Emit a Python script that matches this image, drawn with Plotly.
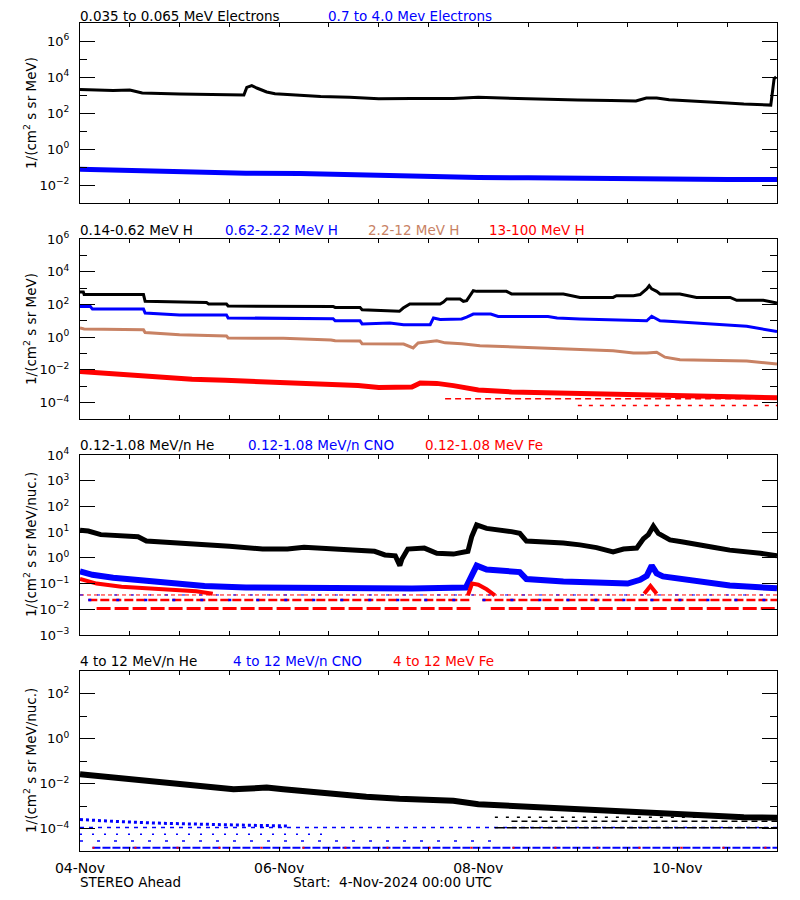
import pandas as pd
import plotly.graph_objects as go

T0 = pd.Timestamp("2024-11-04 00:00")
T1 = T0 + pd.Timedelta(days=7)

# ---------------- data: hours since 04-Nov-2024 00:00 UTC, flux ----------------
# Panel 1: electrons
e_lo_hours = [0, 8, 12, 15, 24, 30, 36, 39.5, 40.2, 41.4, 42.6, 45, 47, 53, 58, 65, 72, 80, 90, 96,
              104, 112, 120, 128, 134, 136.5, 139, 142, 148, 152, 156, 160, 164, 166.5, 167.3, 167.8]
e_lo_flux = [2000, 1780, 1900, 1290, 1150, 1050, 955, 990, 2630, 3310, 2450, 1480, 1175, 955, 830, 740,
             617, 645, 645, 740, 645, 600, 525, 500, 468, 676, 676, 550, 479, 427, 363, 316, 288, 275, 7940, 10000]
e_hi_hours = [0, 6, 12, 18, 24, 30, 40, 53, 64, 72, 84, 96, 108, 120, 132, 144, 156, 168]
e_hi_flux = [0.074, 0.068, 0.062, 0.055, 0.05, 0.047, 0.045, 0.043, 0.037, 0.032, 0.028, 0.026, 0.025,
             0.023, 0.022, 0.021, 0.0205, 0.02]

# Panel 2: protons
h1_hours = [0, 0.8, 1.0, 15.3, 15.7, 30.5, 31, 35.3, 35.7, 61, 61.5, 67.5, 68, 74.7, 77, 77.9, 79.5,
            86.8, 87.6, 88.4, 91.6, 92.4, 93.2, 94.8, 95.6, 102.8, 104, 116.5, 120.5, 128.5, 129.3, 133.4,
            135, 136.6, 137.2, 137.8, 139, 139.8, 144.6, 148.6, 156.7, 158.3, 164.7, 168]
h1_flux = [575, 575, 400, 400, 155, 130, 107, 107, 80, 76, 66, 66, 48, 42, 38, 60, 107, 107, 140, 215,
           215, 155, 170, 690, 630, 630, 440, 440, 270, 270, 340, 340, 400, 900, 1400, 900, 630, 440, 440,
           270, 270, 178, 178, 123]
h2_hours = [0, 2.5, 3, 15.3, 15.7, 24, 35.3, 35.7, 61, 61.5, 67.5, 68, 74.7, 78, 84.4, 85.2, 86.8, 92,
            93.2, 94.8, 99, 100.8, 112.8, 115, 120.5, 134, 136.6, 137.8, 139.8, 142.8, 148.6, 152.6,
            160.7, 168]
h2_flux = [75, 75, 52, 52, 30, 23, 23, 15, 13.5, 10, 10, 6.5, 7.4, 5.8, 5.8, 15, 12, 13, 17, 26, 26,
           18.6, 18.6, 15, 13, 10, 10, 19, 10, 9, 7.4, 6, 4.6, 2.25]
h3_hours = [0, 1, 15.3, 15.7, 24, 35.3, 35.7, 49, 60.5, 61.5, 67.5, 68, 78, 80.3, 81.5, 86, 88, 92,
            96.4, 106, 116.5, 128.5, 133.4, 136.6, 139, 141, 144.6, 152.6, 160.7, 168]
h3_flux = [3.6, 3.2, 2.8, 1.9, 1.4, 1.2, 0.89, 0.85, 0.68, 0.6, 0.58, 0.4, 0.38, 0.22, 0.44, 0.6, 0.45,
           0.4, 0.3, 0.25, 0.2, 0.15, 0.107, 0.107, 0.12, 0.06, 0.042, 0.038, 0.035, 0.023]
h4_hours = [0, 5, 11, 20, 27, 35, 43, 51, 59, 67, 72, 76, 80, 82, 86, 90, 96, 104, 112, 120, 128, 136,
            144, 152, 160, 168]
h4_flux = [0.0081, 0.0065, 0.0046, 0.0034, 0.0027, 0.0023, 0.002, 0.0016, 0.0013, 0.0011, 0.00085,
           0.00085, 0.0009, 0.0016, 0.0015, 0.0011, 0.0006, 0.00045, 0.0004, 0.00035, 0.0003, 0.00028,
           0.00025, 0.00023, 0.00022, 0.0002]
h4_row1_hours = [88, 168]
h4_row1_flux = [1.7e-4, 1.7e-4]
h4_row2_hours = [120, 168]
h4_row2_flux = [6.8e-5, 6.8e-5]

# Panel 3: 0.12-1.08 MeV/n heavy ions
he3_hours = [0, 2, 5, 10, 14, 16, 22, 28, 36, 44, 50, 54, 60, 66, 71, 73.5, 76, 77.1, 77.6, 79, 83,
             86, 90, 93.5, 94.4, 95.6, 98, 104, 106, 107.6, 112, 116.5, 120.5, 124.5, 128.5, 131,
             134.2, 135.8, 137, 138.2, 139.4, 142.2, 145, 148.6, 152.6, 156.6, 160.7, 164, 168]
he3_flux = [12, 11, 8, 7, 6.6, 4.5, 4.0, 3.4, 2.8, 2.2, 2.2, 2.6, 2.3, 2.0, 1.8, 1.3, 1.2, 0.5, 0.9,
            2.2, 2.4, 1.5, 1.4, 1.8, 6.6, 19, 14, 10.5, 9, 4.5, 4.2, 3.8, 3.2, 2.5, 1.7, 2.2, 2.4, 5.5,
            8, 17, 9, 5, 4.2, 3.2, 2.6, 2.0, 1.8, 1.5, 1.2]
cno3_hours = [0, 3, 8, 13, 18, 24, 30, 40, 60, 80, 93, 94.4, 95.6, 98, 103, 106, 107.6, 112, 116.5,
              124.5, 132, 135, 136.6, 137.8, 139, 140.5, 144.6, 148.6, 156.6, 168]
cno3_flux = [0.3, 0.22, 0.17, 0.14, 0.12, 0.1, 0.08, 0.07, 0.065, 0.065, 0.07, 0.2, 0.5, 0.35, 0.3,
             0.28, 0.15, 0.13, 0.12, 0.11, 0.1, 0.14, 0.2, 0.5, 0.25, 0.19, 0.15, 0.12, 0.085, 0.065]
fe3_hours = [0, 4, 10, 20, 28, 32, None, 93.5, 94.5, 96, 98, 100, None, 136, 137.5, 139]
fe3_flux = [0.15, 0.1, 0.075, 0.06, 0.05, 0.04, None, 0.035, 0.1, 0.09, 0.06, 0.035, None, 0.04, 0.08, 0.04]
fe3_row1_hours = [0, 168]
fe3_row1_flux = [0.036, 0.036]
fe3_row2_hours = [2, 94.5, None, 97, 168]
fe3_row2_flux = [0.023, 0.023, None, 0.023, 0.023]
fe3_row3_hours = [4, 94.5, None, 99, 168]
fe3_row3_flux = [0.0107, 0.0107, None, 0.0107, 0.0107]

# Panel 4: 4-12 MeV/n heavy ions
he4_hours = [0, 6, 12.8, 18, 24, 30, 37, 41, 45, 49, 53, 61, 69, 77, 84, 90, 96, 104, 112, 120, 128.6,
             134, 140.6, 146, 152.6, 160, 168]
he4_flux = [0.026, 0.02, 0.0155, 0.012, 0.0092, 0.0075, 0.0055, 0.006, 0.0066, 0.0056, 0.0047, 0.0033,
            0.0026, 0.0021, 0.002, 0.0017, 0.0012, 0.001, 0.00087, 0.00075, 0.00065, 0.00058, 0.00045,
            0.0004, 0.00035, 0.00032, 0.0003]
he4_row1_hours = [100, 168]
he4_row1_flux = [1.07e-4, 1.07e-4]
he4_row2_hours = [104, 168]
he4_row2_flux = [2.1e-4, 2.1e-4]
he4_row3_hours = [100, 150]
he4_row3_flux = [3.2e-4, 3.2e-4]
cno4_hours = [0, 5, 10, 20, 30, 40, 50]
cno4_flux = [2.5e-4, 2.2e-4, 2e-4, 1.7e-4, 1.5e-4, 1.4e-4, 1.3e-4]
cno4_row1_hours = [0, 168]
cno4_row1_flux = [1.1e-4, 1.1e-4]
cno4_row2_hours = [0, 60]
cno4_row2_flux = [5.5e-5, 5.5e-5]
cno4_row3_hours = [0, 100]
cno4_row3_flux = [2.8e-5, 2.8e-5]
cno4_row4_hours = [3, 168]
cno4_row4_flux = [1.4e-5, 1.4e-5]
fe4_row_hours = [3, 168]
fe4_row_flux = [1.4e-5, 1.4e-5]

# tick labels / positions (hours)
x_label_hours = [0, 48, 96, 144]
x_label_text = ["04-Nov", "06-Nov", "08-Nov", "10-Nov"]
x_minor_hours = [12, 24, 36, 60, 72, 84, 108, 120, 132, 156, 168]

BLACK, BLUE, BROWN, RED = "#000000", "#0000FF", "rgb(200,130,100)", "#FF0000"
FONT = "DejaVu Sans"


def t(hours):
    return [None if h is None else T0 + pd.Timedelta(hours=h) for h in hours]


fig = go.Figure()


def add(panel, hours, flux, color, width, dash=None):
    sfx = "" if panel == 1 else str(panel)
    fig.add_trace(go.Scatter(
        x=t(hours), y=flux, mode="lines", xaxis="x" + sfx, yaxis="y" + sfx,
        line=dict(color=color, width=width, dash=dash), connectgaps=False,
        showlegend=False, hoverinfo="skip"))


# panel 1
add(1, e_lo_hours, e_lo_flux, BLACK, 3)
add(1, e_hi_hours, e_hi_flux, BLUE, 5)
# panel 2
add(2, h4_row2_hours, h4_row2_flux, RED, 1.5, "4px,7px")
add(2, h4_row1_hours, h4_row1_flux, RED, 1.5, "6px,4px")
add(2, h4_hours, h4_flux, RED, 5)
add(2, h3_hours, h3_flux, BROWN, 3)
add(2, h2_hours, h2_flux, BLUE, 3)
add(2, h1_hours, h1_flux, BLACK, 3)
# panel 3
add(3, fe3_row3_hours, fe3_row3_flux, RED, 3, "14px,4px")
add(3, fe3_row2_hours, fe3_row2_flux, RED, 2.5, "9px,3px")
add(3, fe3_row2_hours, fe3_row2_flux, BLUE, 2.5, "3px,25px")
add(3, fe3_row1_hours, fe3_row1_flux, RED, 1, "4px,3px")
add(3, fe3_row1_hours, fe3_row1_flux, BLUE, 1, "3px,14px")
add(3, cno3_hours, cno3_flux, BLUE, 6)
add(3, fe3_hours, fe3_flux, RED, 4)
add(3, he3_hours, he3_flux, BLACK, 5)
# panel 4
add(4, cno4_row4_hours, cno4_row4_flux, BLUE, 2, "8px,2px")
add(4, fe4_row_hours, fe4_row_flux, RED, 2, "2px,40px")
add(4, cno4_row3_hours, cno4_row3_flux, BLUE, 1.5, "3px,14px")
add(4, cno4_row2_hours, cno4_row2_flux, BLUE, 1.5, "2px,10px")
add(4, cno4_row1_hours, cno4_row1_flux, BLUE, 1.5, "4px,5px")
add(4, cno4_hours, cno4_flux, BLUE, 3, "dot")
add(4, he4_row3_hours, he4_row3_flux, BLACK, 1.5, "3px,8px")
add(4, he4_row2_hours, he4_row2_flux, BLACK, 1.5, "6px,4px")
add(4, he4_row1_hours, he4_row1_flux, BLACK, 1.5, "10px,2px")
add(4, he4_hours, he4_flux, BLACK, 6)

# ---------------- layout ----------------
OFF = 8                      # page body margin of the html page
W, H = 784, 884              # figure size
PX_L, PX_R, PX_T, PX_B = 80, 777, 23, 851   # plot area in page pixels
L, R, TOP, BOT = PX_L - OFF, W - (PX_R - OFF), PX_T - OFF, H - (PX_B - OFF)
PW, PH = PX_R - PX_L, PX_B - PX_T


def fx(px):
    return (px - PX_L) / PW


def fy(py):
    return (PX_B - py) / PH


panels = [
    # (top px, bottom px, log range, labelled exps, minor exps)
    (23, 203, [-3, 7], [-2, 0, 2, 4, 6], [-1, 1, 3, 5]),
    (239, 419, [-5, 6], [-4, -2, 0, 2, 4, 6], [-3, -1, 1, 3, 5]),
    (455, 635, [-3, 4], [-3, -2, -1, 0, 1, 2, 3, 4], []),
    (671, 851, [-5, 3], [-4, -2, 0, 2], [-3, -1, 1]),
]

tickfont = dict(family=FONT, size=13, color=BLACK)


def sup(e):
    return "10<sup>" + str(e).replace("-", "\u2212") + "</sup>"


layout = dict(
    width=W, height=H, margin=dict(l=L, r=R, t=TOP, b=BOT, pad=0, autoexpand=False),
    paper_bgcolor="white", plot_bgcolor="white", showlegend=False,
    font=dict(family=FONT, size=13, color=BLACK),
)
for i, (ptop, pbot, rng, majors, minors) in enumerate(panels, start=1):
    sfx = "" if i == 1 else str(i)
    layout["xaxis" + sfx] = dict(
        type="date", range=[T0, T1], domain=[0, 1], anchor="y" + sfx,
        tickvals=t(x_label_hours), ticktext=x_label_text,
        showticklabels=(i == 4), ticks="inside", ticklen=4, tickcolor=BLACK, tickwidth=1,
        minor=dict(tickvals=t(x_minor_hours), ticks="inside", ticklen=4, tickcolor=BLACK,
                   tickwidth=1, showgrid=False),
        showline=True, linecolor=BLACK, linewidth=1, mirror="allticks",
        showgrid=False, zeroline=False, tickfont=dict(family=FONT, size=14, color=BLACK),
        ticklabelstandoff=4,
    )
    layout["yaxis" + sfx] = dict(
        type="log", range=rng, domain=[fy(pbot), fy(ptop)], anchor="x" + sfx,
        tickvals=[10.0 ** e for e in majors], ticktext=[sup(e) for e in majors],
        ticks="inside", ticklen=15, tickcolor=BLACK, tickwidth=1,
        minor=dict(tickvals=[10.0 ** e for e in minors], ticks="inside", ticklen=7,
                   tickcolor=BLACK, tickwidth=1, showgrid=False),
        showline=True, linecolor=BLACK, linewidth=1, mirror="allticks",
        showgrid=False, zeroline=False, tickfont=tickfont, ticklabelstandoff=7,
    )
fig.update_layout(**layout)

titles = [
    [(80, "0.035 to 0.065 MeV Electrons", BLACK), (328, "0.7 to 4.0 Mev Electrons", BLUE)],
    [(80, "0.14-0.62 MeV H", BLACK), (225, "0.62-2.22 MeV H", BLUE),
     (368, "2.2-12 MeV H", BROWN), (489, "13-100 MeV H", RED)],
    [(80, "0.12-1.08 MeV/n He", BLACK), (248, "0.12-1.08 MeV/n CNO", BLUE),
     (425, "0.12-1.08 MeV Fe", RED)],
    [(80, "4 to 12 MeV/n He", BLACK), (233, "4 to 12 MeV/n CNO", BLUE), (393, "4 to 12 MeV Fe", RED)],
]
title_y = [15.5, 229.5, 445, 661]
ytitles = ["1/(cm<sup>2</sup> s sr MeV)", "1/(cm<sup>2</sup> s sr MeV)",
           "1/(cm<sup>2</sup> s sr MeV/nuc.)", "1/(cm<sup>2</sup> s sr MeV/nuc.)"]
TFONT = 13.5

ann = []
for (ptop, pbot, *_), row, ty, yt in zip(panels, titles, title_y, ytitles):
    for px, txt, col in row:
        ann.append(dict(x=fx(px), y=fy(ty), xref="paper", yref="paper", text=txt, showarrow=False,
                        xanchor="left", yanchor="middle", xshift=-2,
                        font=dict(family=FONT, size=TFONT, color=col)))
    ann.append(dict(x=fx(30), y=fy((ptop + pbot) / 2), xref="paper", yref="paper", text=yt,
                    textangle=-90, showarrow=False, xanchor="center", yanchor="middle",
                    font=dict(family=FONT, size=13.5, color=BLACK)))
ann.append(dict(x=fx(80), y=fy(882), xref="paper", yref="paper", text="STEREO Ahead", showarrow=False,
                xanchor="left", yanchor="middle", xshift=-2,
                font=dict(family=FONT, size=TFONT, color=BLACK)))
ann.append(dict(x=fx(293), y=fy(882), xref="paper", yref="paper",
                text="Start:\u00a0\u00a04-Nov-2024 00:00 UTC", showarrow=False,
                xanchor="left", yanchor="middle", xshift=-2,
                font=dict(family=FONT, size=TFONT, color=BLACK)))
fig.update_layout(annotations=ann)

fig.write_html("out.html")
